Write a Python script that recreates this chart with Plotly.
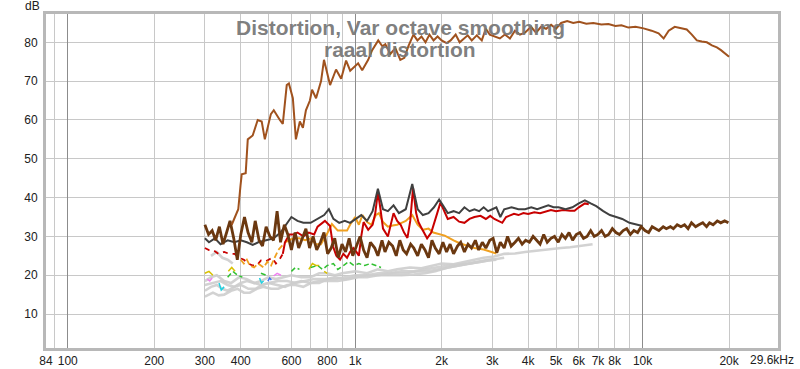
import math
import plotly.graph_objects as go

# ---------------- data ----------------
fund_f = [372, 382, 392, 399, 403, 416, 423, 440, 458, 473, 485, 509, 521,
          547, 560, 578, 588, 607, 622, 642, 658, 674, 696, 708, 731, 761, 779, 818, 858,
          894, 930, 961, 1024, 1058, 1110, 1146, 1203, 1243, 1273, 1326, 1380, 1436, 1483,
          1532, 1595, 1647, 1701, 1757, 1814, 1874, 1935, 1999, 2081, 2149, 2237, 2310,
          2386, 2464, 2545, 2649, 2758, 2848, 2941, 3062, 3188, 3319, 3455, 3597, 3745,
          3899, 4092, 4260, 4435, 4616, 4806, 5003, 5209, 5467, 5738, 6022, 6372, 6742,
          7190, 7606, 8046, 8444, 8934, 9452, 10080, 10750, 11370, 11840, 12330, 12940,
          13580, 14250, 14840, 15450, 16080, 16740, 17430, 18140, 18740, 19200, 19830, 20000]
fund_db = [33, 35, 37, 43, 46, 46.3, 55, 56, 60, 59.6, 55, 61.5, 62.5,
           60, 59, 69, 69.4, 65.6, 55, 59.6, 58, 62.5, 65, 67.8, 65.6, 70, 75.5, 69, 73,
           70.6, 75.3, 72.7, 74.6, 72.8, 75.5, 78, 80.5, 79, 79.5, 77, 78.5, 75.5, 76,
           79, 82, 80.5, 81.5, 80, 82, 80.5, 81.5, 80.5, 79.8, 80.5, 82, 80,
           81, 81.8, 80.5, 81.8, 80.5, 83.5, 82, 81.5, 81, 82, 81, 83, 82,
           82.5, 84, 82.5, 84, 83.5, 84.5, 83.5, 85, 85.5, 85, 85.3, 84.8, 85,
           84.6, 84.7, 84.2, 84.4, 83.8, 84, 83.6, 83, 82.3, 81, 83, 84,
           83.6, 83.3, 82, 80.5, 80.2, 80, 79.2, 78.7, 78, 77.4, 76.5, 76.3]

thd_f = [300, 310, 325, 340, 360, 380, 400, 420, 440, 460, 490, 520, 550, 575, 600, 630,
         660, 700, 740, 780, 810, 840, 880, 920, 960, 1000, 1050, 1100, 1150, 1200, 1250,
         1300, 1360, 1420, 1500, 1580, 1650, 1720, 1800, 1880, 1960, 2020, 2100, 2200,
         2300, 2400, 2500, 2600, 2700, 2800, 2900, 3000, 3100, 3200, 3300, 3500, 3700,
         3900, 4100, 4300, 4500, 4700, 4900, 5100, 5400, 5700, 6000, 6300, 6600, 6900,
         7300, 7700, 8100, 8500, 9000, 9500, 10000]
thd_db = [29.5, 28.5, 29.5, 28, 29, 28.5, 29, 28.5, 27.8, 28.5, 29, 29.5, 31, 33, 35, 34,
          33.5, 33.5, 34.5, 35.5, 37, 34.5, 33.5, 34, 33.5, 34.5, 35.5, 34, 36.5, 42.3, 37,
          36.5, 38, 36, 37, 43.5, 37, 35.5, 36, 37.5, 39.5, 38, 36, 36.5,
          36, 37.5, 36.5, 37, 36.5, 37.5, 36.5, 37, 37.5, 35, 37, 37.5, 37,
          37, 37.5, 37, 37.5, 38, 37.5, 37.5, 37, 37.5, 38.5, 39.3, 38.5, 37.8,
          36.5, 35.5, 35, 34.5, 33.5, 33, 32.7]

red_lo_f = [300, 310, 320, 335, 350, 365, 380, 395, 410, 425, 440, 455, 470, 485, 500,
            515, 530, 545, 560]
red_lo_db = [27, 26.5, 26.5, 25.5, 26, 25.5, 25.5, 24.5, 24, 23, 22.5, 22.5, 23.8, 23.5,
             24, 24.5, 23, 24, 25.5]
red_f = [560, 570, 590, 610, 630, 660, 690, 720, 740, 785, 818, 838, 860, 886, 910, 937,
         960, 985, 1010, 1030, 1050, 1070, 1110, 1150, 1175, 1200, 1225, 1250, 1300, 1330,
         1360, 1400, 1440, 1480, 1520, 1555, 1590, 1630, 1660, 1720, 1780, 1840, 1880,
         1930, 1980, 2050, 2100, 2200, 2300, 2400, 2500, 2600, 2730, 2850, 2950, 3050,
         3150, 3250, 3350, 3450, 3570, 3700, 3850, 4000, 4200, 4400, 4600, 4800, 5000,
         5300, 5600, 5800, 6000, 6300, 6500]
red_db = [25.5, 28.5, 30.5, 30.5, 31, 30, 31, 30.5, 32.5, 34, 32.7, 27.4, 25, 24, 25.5, 24.5,
          26, 27, 26, 25, 30, 33.7, 31.7, 33, 36, 41.5, 37, 32, 30, 33,
          36, 34, 33, 31, 29.6, 34, 42.5, 36, 33.7, 31.5, 29.5, 31, 33,
          36, 38.7, 36, 34.5, 35, 33.8, 33.5, 34.5, 35, 35.3, 34.5, 35.3, 34.5,
          34, 33.5, 35, 35.3, 35.8, 35.5, 36, 35.8, 36.2, 36, 36.5, 36.8, 36.5,
          36.8, 36.6, 36.6, 37.5, 38.5, 38.3]

orange_lo_f = [400, 410, 420, 430, 445, 460, 480, 495, 510, 525, 540, 555, 570]
orange_lo_db = [24, 23, 24, 22.5, 22, 23, 22, 23.5, 22.5, 24.5, 26.5, 27.5, 28.5]
orange_f = [570, 590, 610, 640, 670, 700, 730, 760, 800, 830, 870, 910, 937, 960, 1000,
            1030, 1060, 1100, 1140, 1180, 1210, 1250, 1300, 1350, 1400, 1450, 1500, 1580,
            1650, 1720, 1800, 1870, 1950, 2050, 2200, 2300, 2500, 2600, 2800, 2950, 3100]
orange_db = [28.5, 29, 29.5, 29.5, 29, 29.5, 28, 28, 30.8, 33.2, 31.5, 31.5, 31.5, 33, 35,
             33, 35.5, 33.7, 33, 35.5, 36, 33.7, 32.5, 32.8, 33, 33.5, 34, 35.5,
             33, 31.7, 32, 31, 30.7, 30.2, 29, 28.3, 27.4, 27, 26.6, 26, 25.6]

noise_f = [300, 309, 318, 327, 337, 347, 357, 367, 378, 389,
           400, 412, 424, 437, 449, 463, 476, 490, 505, 520,
           535, 550, 567, 583, 600, 618, 636, 655, 674, 694,
           714, 735, 757, 779, 802, 825, 849, 874, 900, 926,
           953, 981, 1010, 1040, 1070, 1100, 1130, 1170, 1200, 1240,
           1270, 1310, 1350, 1390, 1430, 1470, 1510, 1560, 1600, 1650,
           1700, 1750, 1800, 1850, 1900, 1960, 2020, 2080, 2140, 2200,
           2270, 2330, 2400, 2470, 2540, 2620, 2690, 2770, 2850, 2940,
           3020, 3110, 3200, 3300, 3390, 3490, 3600, 3700, 3810, 3920,
           4040, 4160, 4280, 4400, 4530, 4660, 4800, 4940, 5090, 5240,
           5390, 5550, 5710, 5880, 6050, 6230, 6410, 6600, 6790, 6990,
           7200, 7410, 7620, 7850, 8080, 8310, 8560, 8810, 9070, 9330,
           9610, 9890, 10200, 10500, 10800, 11100, 11400, 11800, 12100, 12500,
           12800, 13200, 13600, 14000, 14400, 14800, 15300, 15700, 16200, 16700,
           17100, 17600, 18200, 18700, 19300, 19900]
noise_db = [33, 30.5, 31.5, 29, 32.5, 28, 31, 34, 29.5, 24,
            30.5, 35, 31, 28.5, 34, 29, 27.5, 32.5, 30, 29,
            36.5, 28.5, 33, 30.5, 26.5, 31, 27, 29.5, 32, 27,
            30, 26.5, 28.5, 31, 25.5, 27, 29.5, 24.5, 28, 26,
            29.5, 25, 27.5, 30, 26.5, 24.5, 28.5, 27, 25, 29,
            26, 28.5, 27.5, 25, 29, 26.5, 25.5, 28, 27, 25,
            28, 26.5, 24.5, 29, 27, 25.5, 28.5, 26, 28, 25.5,
            27.5, 28.5, 26, 28, 27, 29, 26.5, 28.5, 27, 29,
            29.5, 25.8, 28.5, 27, 30, 27.5, 28.5, 29.5, 28, 29,
            28.5, 30, 29, 28, 30.5, 28.5, 29.5, 30, 28.5, 30.5,
            29.5, 31, 29, 30.5, 31, 29.5, 30, 31.5, 30, 30.5,
            31.5, 30, 30.5, 32, 31, 30.5, 31.5, 32, 30.5, 31.5,
            31, 32.5, 31.5, 31, 32.5, 32, 31.5, 32.5, 32, 32.5,
            32, 33, 32.5, 33, 32, 33.5, 32.5, 33, 33.5, 32.5,
            33.5, 33, 34, 33.5, 34, 33.5]

gray1_f = [300, 315, 330, 350, 370, 395, 420, 445, 470, 500, 530, 565, 600, 650, 700, 750,
           800, 850, 900, 1000, 1100, 1200, 1300, 1400, 1550, 1700, 1850, 2000, 2200, 2400,
           2600, 2800, 3050, 3300, 3600, 3900, 4200, 4500, 4850, 5200, 5600, 6000, 6350, 6700]
gray1_db = [18.5, 19.5, 20, 18.5, 18, 19.5, 19, 18, 18.5, 19.5, 19, 19.5, 20, 19.5, 19.5,
            20.5, 20.5, 20, 20.5, 21, 20.5, 21.5, 21, 21.5, 22, 21.8, 22.5, 23, 22.8, 23.5,
            24, 24.5, 24.8, 25.5, 25.6, 26, 26.3, 26.5, 26.8, 27, 27.2, 27.5, 27.8, 28]
gray2_f = [300, 315, 330, 345, 360, 380, 400, 425, 450, 475, 500, 535, 570, 610, 650, 700,
           750, 800, 850, 920, 1000, 1100, 1200, 1350, 1500, 1650, 1800, 1950, 2100, 2300,
           2500, 2700, 2900, 3100, 3300]
gray2_db = [16, 17, 17.5, 16.5, 16, 17, 17.5, 16.5, 16.5, 17.5, 18, 17.5, 17, 18, 18.5,
            18, 18, 19, 19.5, 19, 19.5, 20, 20, 20.5, 20.5, 21, 21, 21.5, 22, 22.5,
            23, 23.5, 24, 24.2, 24.5]
gray3_f = [300, 310, 320, 335, 350, 370, 390, 410, 430, 455, 480, 510, 540, 580, 620, 660,
           700, 750, 800, 870, 950, 1020, 1100, 1200, 1300, 1450, 1600, 1750, 1900, 2100,
           2300, 2500, 2700, 2900, 3100]
gray3_db = [14.5, 15, 15.5, 14.8, 15, 16, 16.5, 15.5, 15.5, 16.5, 17, 16.5, 16.5, 17.5,
            17.5, 17, 18, 18.5, 18.5, 18.5, 19, 19.5, 19.5, 20, 20, 20, 20.2, 20.5, 21, 22,
            22.5, 23, 23.5, 23.8, 24]
gray4_f = [300, 320, 340, 360, 380, 400, 420, 445, 470, 500, 540, 580, 620, 670, 720, 780,
           850, 920, 1000, 1100, 1200, 1320, 1450, 1600, 1750, 1900, 2100, 2300, 2500,
           2750, 3000]
gray4_db = [17.5, 18, 18.5, 17.5, 17, 18, 18.5, 18, 17.5, 18, 18.5, 18.5, 18, 18.5, 19,
            19, 19, 19.5, 20, 20, 20.5, 20.5, 21, 21, 21.5, 21.8, 22.5, 22.8, 23, 23.5, 24]
gray5_f = [315, 330, 345, 360, 375]
gray5_db = [25, 26, 24.5, 24, 23]

green_f = [360, 375, 390, 405, None, 470, 490, None, 600, 620, 640, None, 700, 740, 770,
           800, 840, 870, 910, 950, 990, 1030, 1080, 1130, 1180, 1230]
green_db = [19.5, 21, 20, 19.5, None, 20.5, 20, None, 21, 22, 21.5, None, 22, 22.5, 21.5,
            22.5, 23, 21.5, 22.5, 23.5, 22.5, 23, 22.5, 23, 22.5, 22]
yellow_f = [300, 310, 320, None, 362, 372, 382, None, 690, 710, 730, 750, None, 780, 800]
yellow_db = [20.5, 21, 20, None, 21, 22, 21, None, 21.5, 23, 22.5, 22.5, None, 21, 20.5]
pink_f = [306, 312, 318, None, 520, 535, 552]
pink_db = [19, 18.5, 19.3, None, 19.8, 20.5, 20]
cyan_f = [336, 342, 350, None, 465, 472, 480]
cyan_db = [18, 16.2, 17, None, 19.3, 18, 18.5]
blue_f = [497, 504, 511]
blue_db = [18.5, 19.3, 18.8]

x_tick_vals = [84, 100, 200, 300, 400, 600, 800, 1000, 2000, 3000, 4000, 5000, 6000,
               7000, 8000, 10000, 20000]
x_tick_text = ["84", "100", "200", "300", "400", "600", "800", "1k", "2k", "3k", "4k",
               "5k", "6k", "7k", "8k", "10k", "20k"]
x_end_label = "29.6kHz"
x_grid_minor = [90, 200, 300, 400, 500, 600, 700, 800, 900, 2000, 3000, 4000, 5000,
                6000, 7000, 8000, 9000, 20000]
x_grid_major = [100, 1000, 10000]
y_tick_vals = [10, 20, 30, 40, 50, 60, 70, 80]

title_lines = ["Distortion, Var octave smoothing", "raaal distortion"]

# ---------------- figure ----------------
fig = go.Figure()


def add(f, db, color, width, dash="solid", xaxis="x"):
    fig.add_trace(go.Scatter(x=f, y=db, mode="lines", xaxis=xaxis,
                             line=dict(color=color, width=width, dash=dash),
                             hoverinfo="skip", showlegend=False))


for gf, gd in [(gray3_f, gray3_db), (gray2_f, gray2_db), (gray4_f, gray4_db),
               (gray1_f, gray1_db), (gray5_f, gray5_db)]:
    add(gf, gd, "rgba(205,205,205,0.9)", 2.6)
add(pink_f, pink_db, "#F080F0", 1.5)
add(cyan_f, cyan_db, "#20D0E0", 1.5)
add(blue_f, blue_db, "#4070F0", 1.5)
add(yellow_f, yellow_db, "#D8C000", 1.5)
add(green_f, green_db, "#30C030", 1.5, dash="5px,3px")
add(red_lo_f, red_lo_db, "#C80000", 1.8, dash="5px,5px")
add(orange_lo_f, orange_lo_db, "#F0A020", 1.8, dash="6px,3px")
add(orange_f, orange_db, "#F0A020", 2)
add(red_f, red_db, "#C80000", 2)
add(thd_f, thd_db, "#404040", 2)
add(noise_f, noise_db, "#6B3810", 2.8)
add(fund_f, fund_db, "#A0521E", 2)

xr = [math.log10(84), math.log10(29600)]

fig.update_layout(
    width=800, height=369,
    margin=dict(l=46, r=22, t=14, b=21),
    paper_bgcolor="white", plot_bgcolor="white",
    font=dict(family="Liberation Sans, Arial, sans-serif", size=12, color="#202020"),
    xaxis=dict(type="log", range=xr, tickmode="array", tickvals=x_tick_vals,
               ticktext=x_tick_text, showgrid=False, ticks="", zeroline=False,
               showline=True, mirror=True, linecolor="#B8B8B8", linewidth=3,
               tickfont=dict(size=12, color="#202020"), automargin=False,
               minor=dict(tickmode="array", tickvals=x_grid_minor, showgrid=True,
                          gridcolor="#C8C8C8", gridwidth=1, ticks="")),
    xaxis2=dict(type="log", range=xr, overlaying="x", tickmode="array",
                tickvals=x_grid_major, showgrid=True, gridcolor="#8C8C8C",
                gridwidth=1, showticklabels=False, ticks="", zeroline=False,
                showline=False),
    yaxis=dict(range=[1.25, 87.3], tickmode="array", tickvals=y_tick_vals,
               showgrid=True, gridcolor="#C8C8C8", gridwidth=1, ticks="",
               zeroline=False, showline=True, mirror=True, linecolor="#B8B8B8",
               linewidth=3, tickfont=dict(size=12, color="#202020"),
               ticklabelstandoff=3, automargin=False),
)
# an invisible trace to activate the decade grid axis
fig.add_trace(go.Scatter(x=[1000], y=[None], xaxis="x2", mode="lines",
                         showlegend=False, hoverinfo="skip"))

# end-of-range frequency label (sits at the right edge of the plot)
fig.add_annotation(text=x_end_label, xref="paper", yref="paper", x=1.0, y=0,
                   xshift=-6, yshift=-3, xanchor="center", yanchor="top",
                   showarrow=False, font=dict(size=12, color="#202020"))
fig.add_annotation(text="dB", xref="paper", yref="paper", x=0, y=1.0,
                   xshift=-4, yshift=-1, xanchor="right", yanchor="bottom",
                   showarrow=False, font=dict(size=12, color="#202020"))
for i, line in enumerate(title_lines):
    fig.add_annotation(text="<b>%s</b>" % line, xref="paper", yref="paper",
                       x=(400 - 46) / 732, y=1.0, yshift=-13 - 22 * i,
                       xanchor="center", yanchor="middle", showarrow=False,
                       font=dict(size=21, color="rgba(120,120,120,0.95)"))

fig.write_html("out.html", config={"displayModeBar": False},
               post_script="document.body.style.margin='0';"
                           "document.body.style.overflow='hidden';")
